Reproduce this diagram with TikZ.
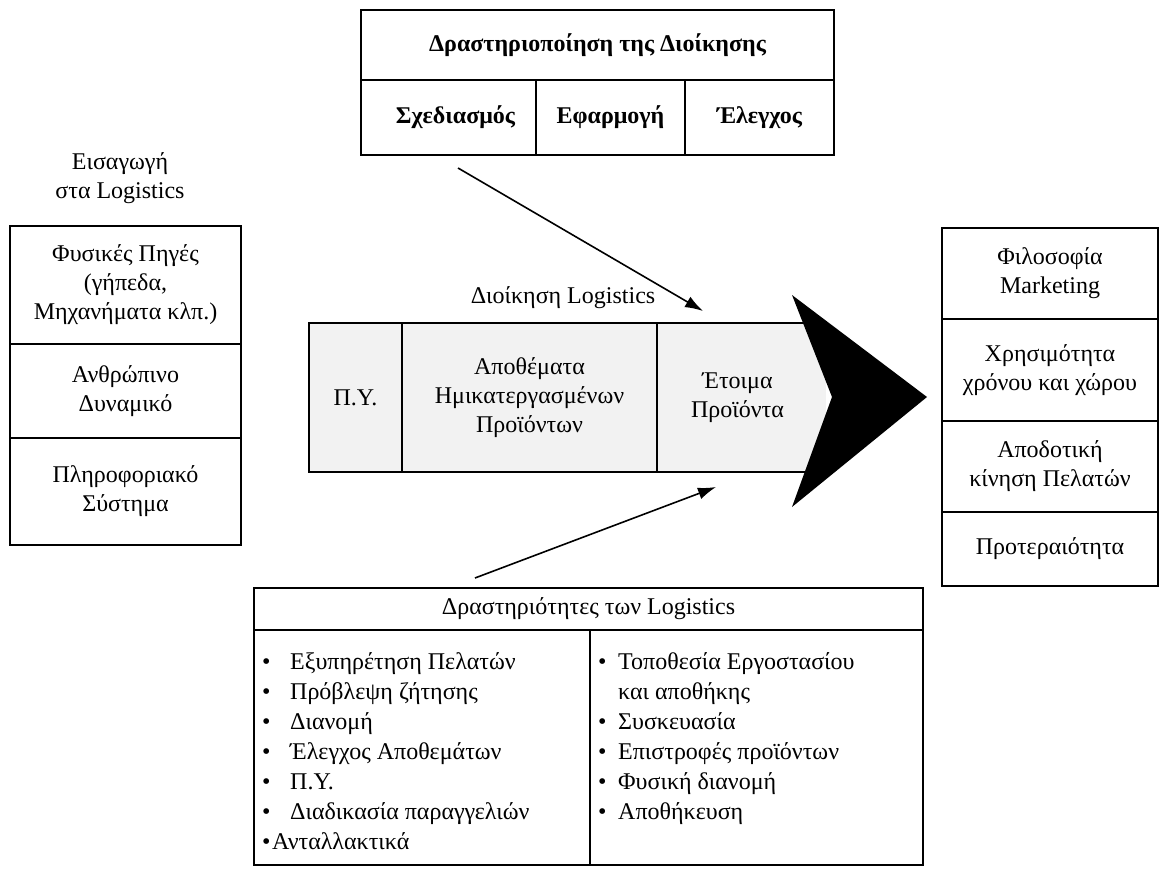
\documentclass[tikz,border=0pt]{standalone}
\usepackage{fontspec}
\setmainfont{Liberation Serif}
\usetikzlibrary{arrows.meta}
\begin{document}
\begin{tikzpicture}[x=1pt,y=-1pt,
  txt/.style={inner sep=0pt, align=center, font=\fontsize{24}{29}\selectfont},
  cell/.style={txt, draw, line width=1.6pt},
  shaded/.style={cell, fill=black!5},
  item/.style={inner sep=0pt, anchor=base west, font=\fontsize{24}{29}\selectfont},
  conn/.style={line width=1.6pt, -{Latex[length=18pt,width=12pt]}}]
\useasboundingbox (0,0) rectangle (1159,869);

% management activation (top)
\node[cell, minimum width=473pt, minimum height=70pt, font=\fontsize{24}{29}\selectfont\bfseries] (act) at (597.5,45) {Δραστηριοποίηση της Διοίκησης};
\node[cell, minimum width=175pt, minimum height=75pt, font=\fontsize{24}{29}\selectfont\bfseries] (plan) at (448.5,117.5) {\hspace*{14pt}Σχεδιασμός};
\node[cell, minimum width=149pt, minimum height=75pt, font=\fontsize{24}{29}\selectfont\bfseries] (impl) at (610.5,117.5) {Εφαρμογή};
\node[cell, minimum width=149pt, minimum height=75pt, font=\fontsize{24}{29}\selectfont\bfseries] (ctrl) at (759.5,117.5) {Έλεγχος};

% introduction (left)
\node[txt] (intro) at (120,178) {Εισαγωγή\\στα Logistics};
\node[cell, minimum width=231pt, minimum height=118pt] (res) at (125.5,285) {Φυσικές Πηγές\\(γήπεδα,\\Μηχανήματα κλπ.)};
\node[cell, minimum width=231pt, minimum height=94pt] (hum) at (125.5,391) {Ανθρώπινο\\Δυναμικό};
\node[cell, minimum width=231pt, minimum height=107pt] (info) at (125.5,491.5) {Πληροφοριακό\\Σύστημα};

% logistics management strip ending in a chevron arrowhead
\node[txt] (mgmt) at (563,298) {Διοίκηση Logistics};
\node[txt, fill=black!5, minimum width=169pt, minimum height=149pt] (fin) at (741.5,397.5) {\hspace*{-8pt}Έτοιμα\\\hspace*{-8pt}Προϊόντα};
\draw[line width=1.6pt] (fin.north west) -- (fin.north east) (fin.south west) -- (fin.south east);
\node[shaded, minimum width=93pt, minimum height=149pt] (raw) at (355.5,397.5) {Π.Υ.};
\node[shaded, minimum width=255pt, minimum height=149pt] (wip) at (529.5,397.5) {Αποθέματα\\Ημικατεργασμένων\\Προϊόντων};
\fill (792,295) -- (927,397) -- (792,507) -- (832,397) -- cycle;

% marketing (right)
\node[cell, minimum width=216pt, minimum height=91pt] (phil) at (1050,273.5) {Φιλοσοφία\\Marketing};
\node[cell, minimum width=216pt, minimum height=102pt] (util) at (1050,370) {Χρησιμότητα\\χρόνου και χώρου};
\node[cell, minimum width=216pt, minimum height=91pt] (eff) at (1050,466.5) {Αποδοτική\\κίνηση Πελατών};
\node[cell, minimum width=216pt, minimum height=74pt] (prio) at (1050,549) {Προτεραιότητα};

% logistics activities (bottom)
\node[cell, minimum width=669pt, minimum height=42pt] (acts) at (588.5,609) {Δραστηριότητες των Logistics};
\node[cell, minimum width=336pt, minimum height=235pt] (colL) at (422,747.5) {};
\node[cell, minimum width=333pt, minimum height=235pt] (colR) at (756.5,747.5) {};

\foreach \t [count=\i] in {Εξυπηρέτηση Πελατών, Πρόβλεψη ζήτησης, Διανομή, Έλεγχος Αποθεμάτων, Π.Υ., Διαδικασία παραγγελιών}
  \node[item] (l\i) at (262,{669+30*(\i-1)}) {\makebox[28pt][l]{•}\t};
\node[item] (l7) at (262,849) {\makebox[10pt][l]{•}Ανταλλακτικά};

\node[item] (r1) at (598,669) {\makebox[20pt][l]{•}Τοποθεσία Εργοστασίου};
\node[item] (r1b) at (618,699) {και αποθήκης};
\foreach \t [count=\i from 2] in {Συσκευασία, Επιστροφές προϊόντων, Φυσική διανομή, Αποθήκευση}
  \node[item] (r\i) at (598,{729+30*(\i-2)}) {\makebox[20pt][l]{•}\t};

% connectors
\coordinate (a1s) at (458,168);
\coordinate (a1e) at (703,311);
\coordinate (a2s) at (475,578);
\coordinate (a2e) at (716,487);
\draw[conn] (a1s) -- (a1e);
\draw[conn] (a2s) -- (a2e);
\end{tikzpicture}
\end{document}
